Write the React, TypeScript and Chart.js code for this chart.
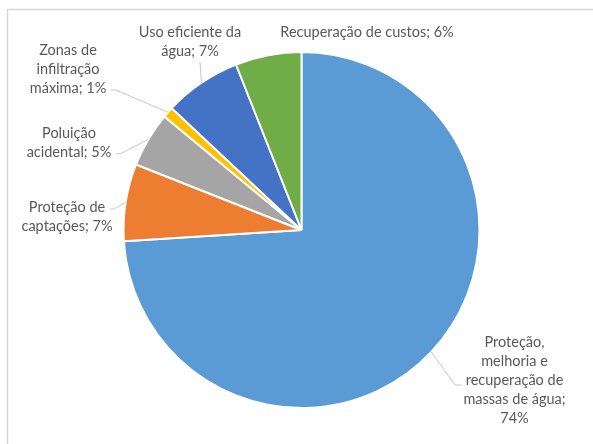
import React, { useEffect, useRef } from "react";
import { Chart, registerables } from "chart.js";

Chart.register(...registerables);

const categories = [
  "Proteção, melhoria e recuperação de massas de água",
  "Proteção de captações",
  "Poluição acidental",
  "Zonas de infiltração máxima",
  "Uso eficiente da água",
  "Recuperação de custos",
];
const values = [74, 7, 5, 1, 7, 6];
const colors = ["#5B9BD5", "#ED7D31", "#A5A5A5", "#FFC000", "#4472C4", "#70AD47"];

// layout of the data labels (positions only)
const labelLayout = [
  { cx: 514.5, y: 342, words: [1, 2, 2, 3, 1], leader: [[462, 385], [455, 385]] },
  { cx: 67, y: 207, words: [2, 2], leader: [[110, 209], [114, 209]] },
  { cx: 69, y: 133, words: [1, 2], leader: [[116, 154], [122, 153]] },
  { cx: 68, y: 50, words: [2, 1, 2], leader: [[111, 90], [116, 90]] },
  { cx: 190, y: 32, words: [3, 2], leader: [[200, 62]] },
  { cx: 367, y: 32, words: [4], leader: [] as number[][] },
];

const FONT = "14.5px Lato, 'Open Sans', sans-serif";
const LINE_H = 19;

const labelPlugin = {
  id: "outLabels",
  beforeDraw(chart: any) {
    const ctx = chart.ctx;
    ctx.save();
    ctx.fillStyle = "#ffffff";
    ctx.fillRect(0, 0, chart.width, chart.height);
    ctx.strokeStyle = "#d6d6d6";
    ctx.lineWidth = 1.5;
    ctx.beginPath();
    ctx.moveTo(chart.width, 9.5);
    ctx.lineTo(7.5, 9.5);
    ctx.lineTo(7.5, chart.height);
    ctx.stroke();
    ctx.restore();
  },
  afterDraw(chart: any) {
    const ctx = chart.ctx;
    const meta = chart.getDatasetMeta(0);
    ctx.save();
    meta.data.forEach((arc: any, i: number) => {
      const lay = labelLayout[i];
      const text = `${categories[i]}; ${values[i]}%`;
      const words = text.split(" ");
      const lines: string[] = [];
      let k = 0;
      lay.words.forEach((n) => {
        lines.push(words.slice(k, k + n).join(" "));
        k += n;
      });
      if (lay.leader.length) {
        const mid = (arc.startAngle + arc.endAngle) / 2;
        const ax = arc.x + Math.cos(mid) * arc.outerRadius;
        const ay = arc.y + Math.sin(mid) * arc.outerRadius;
        ctx.strokeStyle = "#c8c8c8";
        ctx.lineWidth = 1;
        ctx.beginPath();
        ctx.moveTo(lay.leader[0][0], lay.leader[0][1]);
        for (let j = 1; j < lay.leader.length; j++) ctx.lineTo(lay.leader[j][0], lay.leader[j][1]);
        ctx.lineTo(ax, ay);
        ctx.stroke();
      }
      ctx.fillStyle = "#595959";
      ctx.font = FONT;
      ctx.textAlign = "center";
      ctx.textBaseline = "middle";
      lines.forEach((ln, j) => ctx.fillText(ln, lay.cx, lay.y + j * LINE_H));
    });
    ctx.restore();
  },
};

export default function App() {
  const ref = useRef<HTMLCanvasElement>(null);
  useEffect(() => {
    if (!ref.current) return;
    const chart = new Chart(ref.current, {
      type: "pie",
      data: {
        labels: categories,
        datasets: [
          {
            data: values,
            backgroundColor: colors,
            borderColor: "#ffffff",
            borderWidth: 2,
            radius: 178,
          } as any,
        ],
      },
      options: {
        responsive: false,
        animation: false,
        layout: { padding: { left: 60, right: 50, top: 36, bottom: 20 } },
        plugins: { legend: { display: false }, tooltip: { enabled: false } },
      },
      plugins: [labelPlugin],
    });
    return () => chart.destroy();
  }, []);
  return (
    <div style={{ position: "absolute", left: 0, top: 0, width: 593, height: 444, background: "#fff" }}>
      <canvas ref={ref} width={593} height={444} />
    </div>
  );
}
